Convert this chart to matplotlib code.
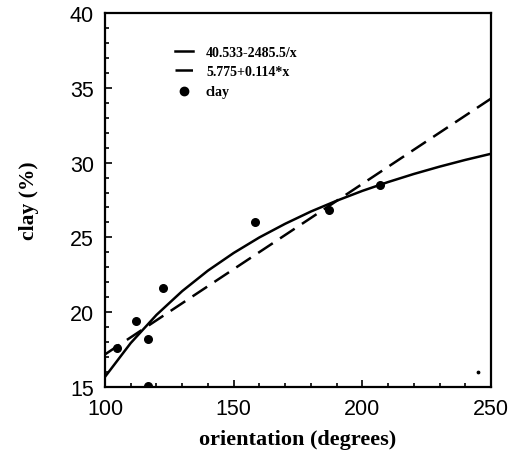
import matplotlib
matplotlib.use("Agg")
import matplotlib.pyplot as plt
from matplotlib.ticker import MultipleLocator

# data
orientation = [104.8, 111.9, 116.7, 116.7, 122.7, 158.3, 187.2, 206.7, 245.0]
clay = [17.6, 19.4, 18.2, 15.1, 21.6, 26.0, 26.8, 28.5, 16.0]

fit1_x = [100, 110, 120, 130, 140, 150, 160, 170, 180, 190, 200, 210, 220, 230, 240, 250]
fit1_y = [15.68, 17.94, 19.82, 21.41, 22.78, 23.96, 25.00, 25.91, 26.73, 27.45,
          28.11, 28.70, 29.24, 29.73, 30.18, 30.59]
fit2_x = [100, 250]
fit2_y = [17.18, 34.28]

labels = ["40.533-2485.5/x", "5.775+0.114*x", "clay"]

fig = plt.figure(figsize=(5.16, 4.64), dpi=100)
ax = fig.add_axes([0.2035, 0.1638, 0.7481, 0.806])

l1, = ax.plot(fit1_x, fit1_y, color="black", lw=1.8, label=labels[0])
l2, = ax.plot(fit2_x, fit2_y, color="black", lw=1.8, ls=(0, (7, 3.5)), label=labels[1])
pts = ax.scatter(orientation[:-1], clay[:-1], s=30, color="black", marker="o", zorder=3, label=labels[2])
ax.scatter(orientation[-1:], clay[-1:], s=3, color="black", zorder=3)

ax.set_xlim(100, 250)
ax.set_ylim(15, 40)
ax.xaxis.set_major_locator(MultipleLocator(50))
ax.xaxis.set_minor_locator(MultipleLocator(10))
ax.yaxis.set_major_locator(MultipleLocator(5))
ax.yaxis.set_minor_locator(MultipleLocator(1))
ax.tick_params(which="both", direction="in", top=False, right=False, width=1.2)
ax.tick_params(which="major", length=5, labelsize=15.5, pad=8)
ax.tick_params(which="minor", length=3)
for lab in ax.get_xticklabels() + ax.get_yticklabels():
    lab.set_family("Liberation Sans")
for s in ax.spines.values():
    s.set_linewidth(1.6)

ax.set_xlabel("orientation (degrees)", family="Liberation Serif", fontweight="bold", fontsize=16, labelpad=7)
ax.set_ylabel("clay (%)", family="Liberation Serif", fontweight="bold", fontsize=15.5, labelpad=22)

leg = ax.legend(handles=[l1, l2, pts], loc="upper left", bbox_to_anchor=(0.15, 0.945),
                frameon=False, handlelength=1.3, handletextpad=0.9, labelspacing=0.45,
                prop={"family": "Liberation Serif", "weight": "bold", "size": 10},
                scatterpoints=1, markerscale=1.1)

fig.savefig("out.png", dpi=100)
